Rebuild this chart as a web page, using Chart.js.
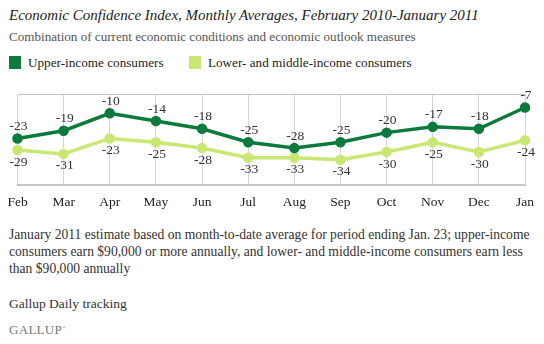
<!DOCTYPE html>
<html>
<head>
<meta charset="utf-8">
<script src="https://cdn.jsdelivr.net/npm/chart.js@4"></script>
<style>
  body { margin: 0; width: 544px; height: 344px; background: #fff; position: relative; overflow: hidden;
         font-family: "Liberation Serif", "DejaVu Serif", serif; }
  .txt { position: absolute; left: 9px; white-space: nowrap; }
  #title { top: 5px; font-size: 15px; line-height: 20px; font-style: italic; color: #222; }
  #subtitle { top: 29px; font-size: 13.1px; line-height: 16px; color: #555; }
  #legend { top: 55px; font-size: 13.2px; line-height: 16px; color: #222; }
  .sw { display: inline-block; width: 12px; height: 13px; vertical-align: -2px; margin-right: 7px; }
  #note { top: 226px; font-size: 13.6px; line-height: 17px; color: #333; white-space: normal; width: 530px; }
  #source { top: 296px; font-size: 13.5px; line-height: 16px; color: #333; }
  #brand { top: 320px; font-size: 13px; line-height: 16px; color: #777; letter-spacing: 0.3px; }
  #wrap { position: absolute; left: 0; top: 80px; width: 544px; height: 141px; }
</style>
</head>
<body>
<div class="txt" id="title">Economic Confidence Index, Monthly Averages, February 2010-January 2011</div>
<div class="txt" id="subtitle">Combination of current economic conditions and economic outlook measures</div>
<div class="txt" id="legend">
  <span class="sw" style="background:#0b7a3b"></span>Upper-income consumers
  <span class="sw" style="background:#c8e873; margin-left:22px"></span>Lower- and middle-income consumers
</div>
<div id="wrap"><canvas id="chart"></canvas></div>
<div class="txt" id="note">January 2011 estimate based on month-to-date average for period ending Jan. 23; upper-income consumers earn $90,000 or more annually, and lower- and middle-income consumers earn less than $90,000 annually</div>
<div class="txt" id="source">Gallup Daily tracking</div>
<div class="txt" id="brand">GALLUP<sup style="font-size:5px">&reg;</sup></div>

<script>
const months = ['Feb', 'Mar', 'Apr', 'May', 'Jun', 'Jul', 'Aug', 'Sep', 'Oct', 'Nov', 'Dec', 'Jan'];
const upperIncome = [-23, -19, -10, -14, -18, -25, -28, -25, -20, -17, -18, -7];
const lowerMiddleIncome = [-29, -31, -23, -25, -28, -33, -33, -34, -30, -25, -30, -24];

const upperColor = '#0b7a3b';
const lowerColor = '#c8e873';

// value labels: upper series above the points, lower series below
const pointLabels = {
  id: 'pointLabels',
  afterDatasetsDraw(chart) {
    const ctx = chart.ctx;
    ctx.save();
    ctx.font = '13.5px "Liberation Serif", serif';
    ctx.fillStyle = '#333';
    ctx.textAlign = 'center';
    ctx.textBaseline = 'middle';
    chart.data.datasets.forEach((ds, i) => {
      const meta = chart.getDatasetMeta(i);
      meta.data.forEach((pt, j) => {
        const dy = i === 0 ? -12 : 12;
        ctx.fillText(String(ds.data[j]), pt.x + 1, pt.y + dy);
      });
    });
    ctx.restore();
  }
};

new Chart(document.getElementById('chart'), {
  type: 'line',
  data: {
    labels: months,
    datasets: [
      { label: 'Upper-income consumers', data: upperIncome, borderColor: upperColor, backgroundColor: upperColor,
        borderWidth: 3.5, pointRadius: 3.5, pointHoverRadius: 3.5, tension: 0 },
      { label: 'Lower- and middle-income consumers', data: lowerMiddleIncome, borderColor: lowerColor, backgroundColor: lowerColor,
        borderWidth: 3.5, pointRadius: 3.5, pointHoverRadius: 3.5, tension: 0 }
    ]
  },
  options: {
    responsive: true,
    maintainAspectRatio: false,
    animation: false,
    layout: { padding: { left: 17.5, right: 19, top: 14, bottom: 0 } },
    plugins: { legend: { display: false }, tooltip: { enabled: false } },
    scales: {
      x: {
        offset: false,
        // keep the plot edges where the layout padding puts them
        afterFit(scale) { scale.paddingLeft = 0; scale.paddingRight = 0; },
        grid: { color: '#d6d6d6', lineWidth: 1, drawTicks: false },
        border: { color: '#c8c8c8', width: 2 },
        ticks: { color: '#222', padding: 10, font: { family: '"Liberation Serif", serif', size: 13.5 } }
      },
      y: {
        min: -47,
        max: 0,
        afterFit(scale) { scale.width = 0; },
        afterBuildTicks(scale) { scale.ticks = [{ value: 0 }]; },
        ticks: { display: false },
        grid: { color: '#c4c4c4', lineWidth: 1, drawTicks: false },
        border: { display: false }
      }
    }
  },
  plugins: [pointLabels]
});
</script>
</body>
</html>
